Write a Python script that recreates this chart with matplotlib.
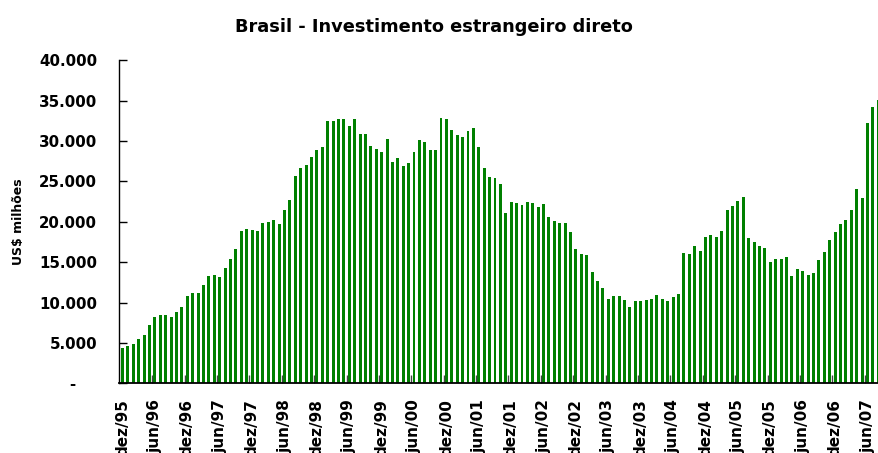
import matplotlib
matplotlib.use('Agg')
import matplotlib.pyplot as plt
from matplotlib.ticker import FuncFormatter

# IED mensal (US$ milhões), dez/95 a ago/07
ied = [4420,
       4670, 4910, 5530, 6030, 7270, 8260, 8510, 8510, 8260, 8880, 9500, 10860,
       11230, 11230, 12220, 13340, 13460, 13210, 14330, 15440, 16680, 18910, 19160, 19040,
       18910, 19900, 20030, 20270, 19780, 21510, 22750, 25720, 26720, 27090, 28080, 28940,
       29320, 32540, 32540, 32780, 32780, 31920, 32780, 30930, 30930, 29440, 29070, 28700,
       30310, 27460, 27950, 26960, 27330, 28700, 30180, 29940, 28940, 28940, 32910, 32780,
       31420, 30800, 30560, 31300, 31670, 29320, 26720, 25600, 25480, 24730, 21140, 22500,
       22380, 22130, 22500, 22380, 21880, 22260, 20650, 20150, 19900, 19900, 18790, 16680,
       16060, 15940, 13830, 12720, 11850, 10490, 10860, 10860, 10360, 9500, 10240, 10240,
       10360, 10490, 10980, 10490, 10240, 10740, 11110, 16190, 16060, 17050, 16430, 18170,
       18420, 18170, 18910, 21510, 22010, 22630, 23120, 18040, 17550, 17050, 16810, 15070,
       15440, 15440, 15690, 13340, 14200, 13960, 13460, 13710, 15320, 16310, 17800, 18790,
       19780, 20270, 21510, 24110, 23000, 32290, 34270, 35140]

rotulos = ['dez/95', 'jun/96', 'dez/96', 'jun/97', 'dez/97', 'jun/98', 'dez/98', 'jun/99',
           'dez/99', 'jun/00', 'dez/00', 'jun/01', 'dez/01', 'jun/02', 'dez/02', 'jun/03',
           'dez/03', 'jun/04', 'dez/04', 'jun/05', 'dez/05', 'jun/06', 'dez/06', 'jun/07']

titulo = 'Brasil - Investimento estrangeiro direto'
y_name = 'US$ milhões'

plt.rcParams['font.family'] = ['DejaVu Sans']
plt.rcParams['font.weight'] = 'bold'

W, H = 879, 453
fig = plt.figure(figsize=(W / 100, H / 100), dpi=100)
ax = fig.add_axes([119.3 / W, (H - 383.3) / H, (W - 119.3) / W, 323 / H])

ax.bar(range(len(ied)), ied, width=0.55, color='#008000', linewidth=0)

#eixo y
ax.set_yticks(range(0, 40001, 5000))
ax.yaxis.set_major_formatter(FuncFormatter(
    lambda v, p: '-    ' if v == 0 else f'{int(v):,}'.replace(',', '.')))
ax.tick_params(axis='y', direction='in', length=6, width=1, pad=15.8, labelsize=10.8)

#eixo x
ax.set_xticks([i * 6 for i in range(len(rotulos))])
ax.set_xticklabels(rotulos, rotation=90, fontsize=11)
ax.tick_params(axis='x', which='major', length=0, pad=11.5)
ax.set_xticks([i * 6 + 5.5 for i in range(len(rotulos) - 1)], minor=True)
ax.tick_params(axis='x', which='minor', direction='in', length=6, width=1, color='#444444')

#範囲 (depois dos ticks)
ax.set_xlim(-0.59, 140.13)
ax.set_ylim(0, 40000)

ax.spines['top'].set_visible(False)
ax.spines['right'].set_visible(False)
ax.spines['left'].set_linewidth(1.0)
ax.spines['bottom'].set_linewidth(1.3)

fig.text(434 / W, 1 - 31.7 / H, titulo, ha='center', va='baseline', fontsize=12.8, fontweight='bold')
fig.text(18.5 / W, 1 - 221.8 / H, y_name, rotation=90, ha='center', va='center', fontsize=9, fontweight='bold')

fig.savefig('out.png', dpi=100)
